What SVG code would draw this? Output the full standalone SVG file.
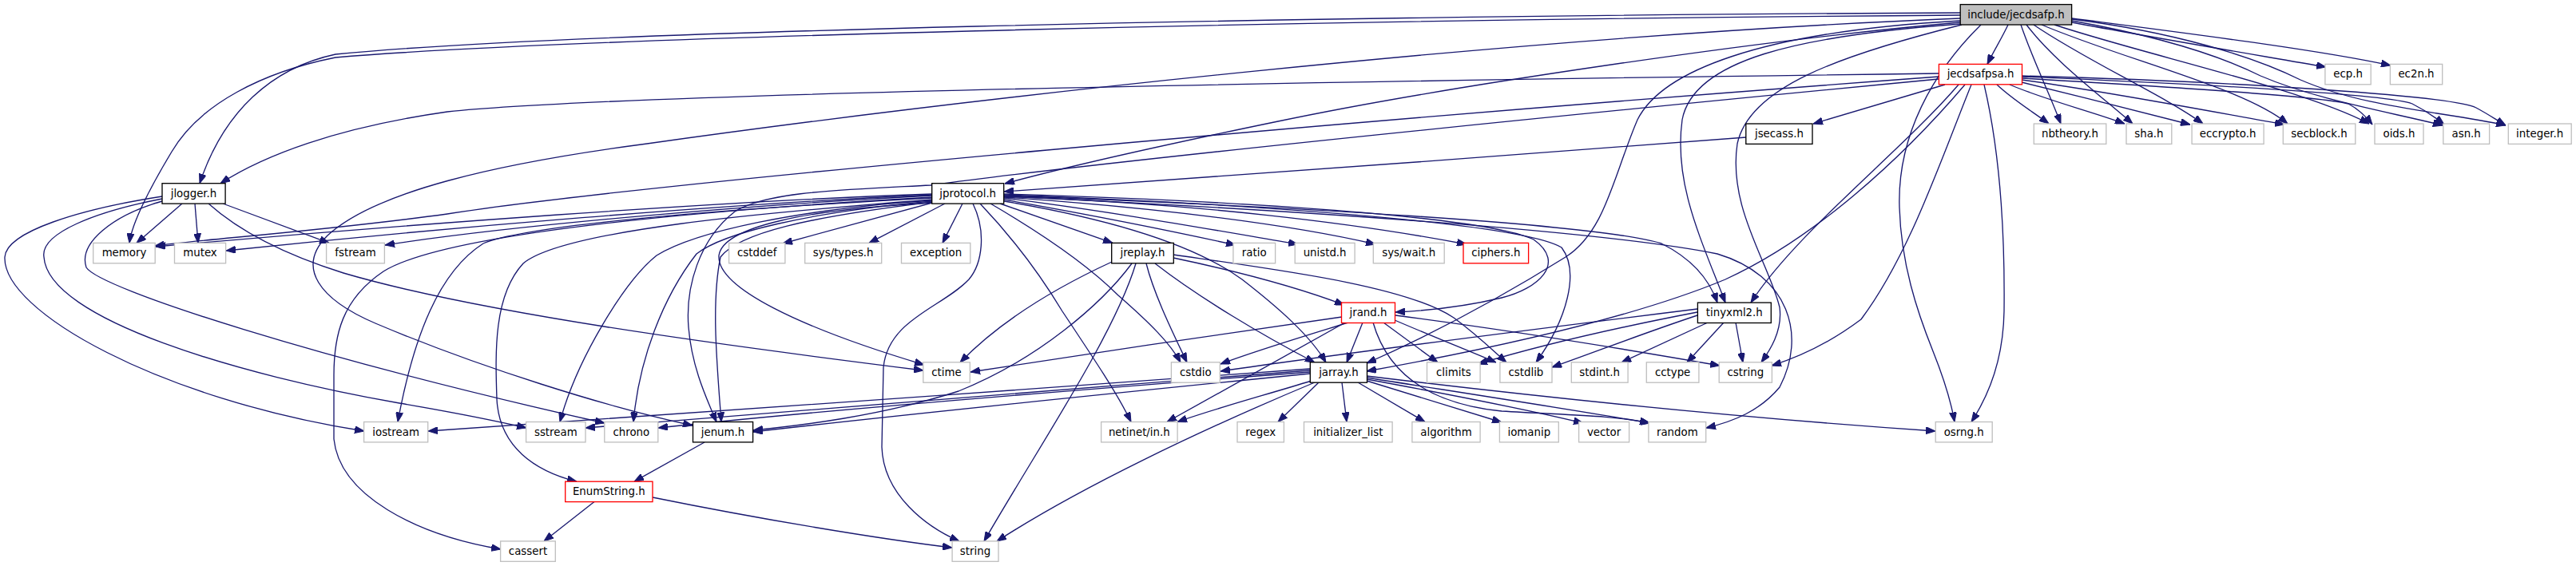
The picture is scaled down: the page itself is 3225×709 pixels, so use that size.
<svg xmlns="http://www.w3.org/2000/svg" width="3225" height="709" viewBox="0 0 3225 709">
<style>
rect{fill:#fff;stroke-width:1.33}
.ext{stroke:#bfbfbf}
.doc{stroke:#000}
.tr{stroke:#f00}
.root{fill:#bfbfbf;stroke:#000}
text{font-family:"DejaVu Sans","Liberation Sans",sans-serif;font-size:13.33px;text-anchor:middle;fill:#000}
#edges path{fill:none;stroke:#191970;stroke-width:1.33;marker-end:url(#arr)}
</style>
<defs>
<marker id="arr" markerUnits="userSpaceOnUse" markerWidth="12" markerHeight="9" refX="12" refY="4.5" orient="auto" viewBox="0 0 12 9">
<path d="M0,0 L12,4.5 L0,9 z" fill="#191970" stroke="#191970" stroke-width="1"/>
</marker>
</defs>
<rect x="0" y="0" width="3225" height="709" style="fill:#fff;stroke:none"/>
<g id="edges">
<path d="M2514,31 C2506,48 2496,64 2488,80.4"/>
<path d="M2594,28 C2700,48 2820,68 2912,84"/>
<path d="M2594,23 C2740,42 2900,62 2993,82"/>
<path d="M2530,31 C2545,75 2565,115 2580,155"/>
<path d="M2537,31 C2570,75 2630,120 2670,155"/>
<path d="M2546,31 C2610,75 2710,120 2758,155"/>
<path d="M2556,31 C2660,75 2810,110 2864,155"/>
<path d="M2572,31 C2690,70 2880,110 2966,155"/>
<path d="M2594,26 C2700,45 2780,70 2830,95 C2900,125 2990,140 3058,157"/>
<path d="M2594,24 C2720,40 2820,70 2880,100 C2960,135 3060,140 3137,157"/>
<path d="M2500,106 C2520,125 2545,140 2565,155"/>
<path d="M2516,106 C2560,125 2620,140 2660,155"/>
<path d="M2531,103 C2600,120 2680,140 2742,156"/>
<path d="M2531,100 C2640,115 2770,140 2860,156"/>
<path d="M2531,98 C2700,108 2900,120 2940,130 C2955,138 2963,147 2970,156"/>
<path d="M2531,96 C2750,105 2990,118 3020,130 C3040,140 3050,148 3060,156"/>
<path d="M2531,95 C2800,102 3070,120 3100,135 C3115,143 3125,150 3137,157"/>
<path d="M2435,106 L2270,155"/>
<path d="M2427,92 C1800,100 800,115 560,140 C420,160 330,195 276,229.7"/>
<path d="M2427,96 C1700,150 800,230 560,268 C400,290 250,300 194,308"/>
<path d="M2427,99 C2000,140 1400,200 1165,232 C1050,238 960,240 920,265 C875,300 858,360 862,410 C866,460 885,500 897,528.5"/>
<path d="M2452,106 C2380,190 2250,290 2192,379"/>
<path d="M2460,106 C2380,200 2270,300 2160,350 C2040,400 1850,440 1711,465"/>
<path d="M2468,106 C2430,200 2390,320 2330,400 C2290,430 2250,448 2218,458"/>
<path d="M2484,106 C2506,200 2510,300 2509,390 C2508,450 2490,495 2468,528.5"/>
<path d="M2454,16 C1600,20 700,40 420,68 C340,85 280,140 250,229.7"/>
<path d="M2454,19 C1600,25 700,48 420,72 C330,90 250,130 215,190 C185,240 165,280 162,304.4"/>
<path d="M2454,28 C2200,50 1800,110 1600,152 C1450,183 1320,213 1258,230"/>
<path d="M2454,23 C1900,45 1200,125 810,180 C620,205 470,240 410,295 C370,335 400,375 470,405 C600,460 760,510 867,533"/>
<path d="M2454,30 C2250,45 2120,75 2106,150 C2095,230 2130,300 2160,379"/>
<path d="M2456,31 C2300,70 2190,110 2175,180 C2163,260 2215,330 2228,385 C2232,415 2215,440 2205,453.8"/>
<path d="M2454,26 C2200,40 2080,90 2050,150 C2020,220 2010,290 1960,322 C1880,372 1790,420 1711,455"/>
<path d="M2480,31 C2420,90 2375,170 2378,260 C2380,330 2400,390 2420,440 C2432,470 2442,500 2447,528.5"/>
<path d="M2186,172 C1900,195 1500,222 1257,240"/>
<path d="M228,255 L171,304.4"/>
<path d="M244,255 L248,304.4"/>
<path d="M279,255 L412,304.4"/>
<path d="M261,255 C300,290 360,320 430,342 C600,392 900,432 1156,464"/>
<path d="M203,246 C100,262 8,290 6,322 C3,390 200,500 456,540"/>
<path d="M203,249 C120,265 50,292 55,322 C60,400 300,470 500,505 C570,517 620,527 659,536"/>
<path d="M203,252 C140,270 98,305 108,335 C125,362 400,450 757,530"/>
<path d="M1167,243 C900,252 500,282 195,309"/>
<path d="M1167,244 C900,256 560,285 283,314"/>
<path d="M1167,245 C950,256 650,281 482,307"/>
<path d="M1167,247 C900,262 560,290 480,340 C428,375 418,420 418,470 L418,550 C425,620 520,670 627,688"/>
<path d="M1167,248 C900,262 660,282 605,305 C550,340 518,420 498,528.5"/>
<path d="M1167,250 C960,266 705,288 655,330 C618,370 620,440 622,500 C625,560 670,590 722,603.2"/>
<path d="M1167,251 C1000,262 870,290 822,320 C782,352 722,450 701,528.5"/>
<path d="M1167,252 C1010,266 905,292 872,318 C830,372 800,450 793,528.5"/>
<path d="M1168,253 C1010,272 925,292 902,322 C890,380 898,460 903,528.5"/>
<path d="M1169,254 C1010,262 905,284 900,320 C897,360 1000,410 1157,457"/>
<path d="M1167,254 L980,305"/>
<path d="M1183,255 L1088,304.4"/>
<path d="M1205,255 L1180,304.4"/>
<path d="M1218,255 C1235,290 1230,330 1213,350 C1180,385 1112,400 1106,460 L1104,560 C1106,620 1160,660 1201,678"/>
<path d="M1227,255 C1265,295 1300,340 1330,390 C1370,450 1400,495 1416,528.5"/>
<path d="M1240,255 C1300,290 1360,330 1400,370 C1440,405 1465,430 1478,454"/>
<path d="M1252,255 L1393,304.4"/>
<path d="M1257,252 C1400,276 1500,310 1555,350 C1600,385 1640,420 1660,454"/>
<path d="M1257,250 C1370,270 1470,290 1547,307"/>
<path d="M1257,248 C1400,266 1530,290 1625,306"/>
<path d="M1257,247 C1450,260 1620,282 1722,306"/>
<path d="M1257,246 C1500,255 1700,280 1836,306"/>
<path d="M1257,243 C1500,250 1850,268 1920,300 C1962,330 1925,362 1880,373 C1830,385 1790,389 1747,391"/>
<path d="M1257,244 C1550,255 1900,278 1955,310 C1978,340 1962,400 1923,454"/>
<path d="M1257,245 C1600,258 2000,280 2080,305 C2120,325 2140,350 2150,379"/>
<path d="M1257,246 C1600,262 2000,288 2150,318 C2240,345 2262,420 2228,485 C2203,515 2170,528 2136,536"/>
<path d="M1392,328 C1340,352 1262,392 1202,454"/>
<path d="M1417,330 C1380,380 1300,450 1200,490 C1100,522 1000,533 943,539"/>
<path d="M1422,330 C1395,420 1300,560 1232,678"/>
<path d="M1435,330 C1445,370 1470,420 1486,454"/>
<path d="M1446,330 C1500,372 1580,420 1646,454"/>
<path d="M1469,323 C1550,340 1630,362 1683,382"/>
<path d="M1469,319 C1600,338 1760,358 1820,398 C1850,420 1870,440 1886,454"/>
<path d="M1680,397 C1550,415 1350,445 1215,466"/>
<path d="M1688,404 C1620,425 1570,440 1528,456"/>
<path d="M1684,404 C1620,440 1530,490 1461,528.5"/>
<path d="M1706,404 L1686,454"/>
<path d="M1732,404 L1800,454"/>
<path d="M1746,401 C1790,420 1840,440 1873,454"/>
<path d="M1747,395 C1900,415 2050,440 2153,458"/>
<path d="M1719,404 C1735,460 1780,505 1880,515 C1960,520 2020,520 2065,530"/>
<path d="M1640,462 C1300,487 800,522 536,540"/>
<path d="M1640,464 C1300,490 900,522 733,536"/>
<path d="M1640,466 C1300,492 1000,517 824,536"/>
<path d="M1640,468 C1400,492 1150,517 943,541"/>
<path d="M1642,477 C1580,496 1520,512 1474,528.5"/>
<path d="M1651,479 L1600,528.5"/>
<path d="M1646,479 C1500,540 1350,612 1248,678"/>
<path d="M1680,479 L1686,528.5"/>
<path d="M1700,479 L1784,528.5"/>
<path d="M1711,477 L1880,529"/>
<path d="M1711,475 C1820,495 1920,515 1982,530"/>
<path d="M1711,473 C1850,495 1980,515 2066,530"/>
<path d="M1711,471 C1950,500 2200,525 2423,540"/>
<path d="M2125,387 C1900,415 1700,440 1528,465"/>
<path d="M2125,391 C2000,415 1920,435 1850,456"/>
<path d="M2125,395 C2050,420 2000,440 1943,460"/>
<path d="M2138,404 L2030,454"/>
<path d="M2158,404 L2112,454"/>
<path d="M2173,404 L2182,454"/>
<path d="M882,554 L794,603.2"/>
<path d="M744,628.6 L681,677.9"/>
<path d="M817,623 C950,650 1100,675 1192,686"/>
</g>
<g id="n_root"><rect class="root" x="2454.2" y="5.6" width="139.4" height="25.4"/><text x="2523.9" y="22.6">include/jecdsafp.h</text></g>
<g id="n_jecdsafpsa"><rect class="tr" x="2427.4" y="80.4" width="104.1" height="25.4"/><text x="2479.5" y="97.4">jecdsafpsa.h</text></g>
<g id="n_ecp"><rect class="ext" x="2910.9" y="80.4" width="57.3" height="25.4"/><text x="2939.6" y="97.4">ecp.h</text></g>
<g id="n_ec2n"><rect class="ext" x="2992.4" y="80.4" width="65.3" height="25.4"/><text x="3025" y="97.4">ec2n.h</text></g>
<g id="n_jsecass"><rect class="doc" x="2185.8" y="155" width="83.2" height="25.4"/><text x="2227.4" y="172">jsecass.h</text></g>
<g id="n_nbtheory"><rect class="ext" x="2546.3" y="155" width="90.5" height="25.4"/><text x="2591.5" y="172">nbtheory.h</text></g>
<g id="n_sha"><rect class="ext" x="2662" y="155" width="56.8" height="25.4"/><text x="2690.4" y="172">sha.h</text></g>
<g id="n_eccrypto"><rect class="ext" x="2744.1" y="155" width="90" height="25.4"/><text x="2789.1" y="172">eccrypto.h</text></g>
<g id="n_secblock"><rect class="ext" x="2858.3" y="155" width="90.5" height="25.4"/><text x="2903.5" y="172">secblock.h</text></g>
<g id="n_oids"><rect class="ext" x="2973" y="155" width="61" height="25.4"/><text x="3003.5" y="172">oids.h</text></g>
<g id="n_asn"><rect class="ext" x="3058.8" y="155" width="57.8" height="25.4"/><text x="3087.7" y="172">asn.h</text></g>
<g id="n_integer"><rect class="ext" x="3140.3" y="155" width="78.9" height="25.4"/><text x="3179.7" y="172">integer.h</text></g>
<g id="n_jlogger"><rect class="doc" x="203" y="229.7" width="79.1" height="25.4"/><text x="242.5" y="246.7">jlogger.h</text></g>
<g id="n_jprotocol"><rect class="doc" x="1166.7" y="229.7" width="90" height="25.4"/><text x="1211.7" y="246.7">jprotocol.h</text></g>
<g id="n_memory"><rect class="ext" x="116.7" y="304.4" width="77.5" height="25.4"/><text x="155.5" y="321.4">memory</text></g>
<g id="n_mutex"><rect class="ext" x="218.5" y="304.4" width="64.1" height="25.4"/><text x="250.5" y="321.4">mutex</text></g>
<g id="n_fstream"><rect class="ext" x="408.6" y="304.4" width="72.8" height="25.4"/><text x="445" y="321.4">fstream</text></g>
<g id="n_cstddef"><rect class="ext" x="912.6" y="304.4" width="70.3" height="25.4"/><text x="947.7" y="321.4">cstddef</text></g>
<g id="n_systypes"><rect class="ext" x="1007.7" y="304.4" width="96" height="25.4"/><text x="1055.7" y="321.4">sys/types.h</text></g>
<g id="n_exception"><rect class="ext" x="1128.5" y="304.4" width="86.3" height="25.4"/><text x="1171.6" y="321.4">exception</text></g>
<g id="n_jreplay"><rect class="doc" x="1391.7" y="304.4" width="77.6" height="25.4"/><text x="1430.5" y="321.4">jreplay.h</text></g>
<g id="n_ratio"><rect class="ext" x="1543.9" y="304.4" width="52.7" height="25.4"/><text x="1570.2" y="321.4">ratio</text></g>
<g id="n_unistd"><rect class="ext" x="1621.2" y="304.4" width="74.9" height="25.4"/><text x="1658.6" y="321.4">unistd.h</text></g>
<g id="n_syswait"><rect class="ext" x="1719.3" y="304.4" width="88.9" height="25.4"/><text x="1763.7" y="321.4">sys/wait.h</text></g>
<g id="n_ciphers"><rect class="tr" x="1832" y="304.4" width="81.6" height="25.4"/><text x="1872.8" y="321.4">ciphers.h</text></g>
<g id="n_jrand"><rect class="tr" x="1679.5" y="379.1" width="67" height="25.4"/><text x="1713" y="396.1">jrand.h</text></g>
<g id="n_tinyxml2"><rect class="doc" x="2125.4" y="379.1" width="91.9" height="25.4"/><text x="2171.3" y="396.1">tinyxml2.h</text></g>
<g id="n_ctime"><rect class="ext" x="1155.8" y="453.8" width="58.5" height="25.4"/><text x="1185" y="470.8">ctime</text></g>
<g id="n_cstdio"><rect class="ext" x="1466.4" y="453.8" width="60.9" height="25.4"/><text x="1496.8" y="470.8">cstdio</text></g>
<g id="n_jarray"><rect class="doc" x="1640.3" y="453.8" width="71.2" height="25.4"/><text x="1675.9" y="470.8">jarray.h</text></g>
<g id="n_climits"><rect class="ext" x="1786.5" y="453.8" width="66.6" height="25.4"/><text x="1819.8" y="470.8">climits</text></g>
<g id="n_cstdlib"><rect class="ext" x="1877.9" y="453.8" width="65.1" height="25.4"/><text x="1910.4" y="470.8">cstdlib</text></g>
<g id="n_stdint"><rect class="ext" x="1967.3" y="453.8" width="70.8" height="25.4"/><text x="2002.7" y="470.8">stdint.h</text></g>
<g id="n_cctype"><rect class="ext" x="2061.3" y="453.8" width="65.6" height="25.4"/><text x="2094.1" y="470.8">cctype</text></g>
<g id="n_cstring"><rect class="ext" x="2152.2" y="453.8" width="66.2" height="25.4"/><text x="2185.3" y="470.8">cstring</text></g>
<g id="n_iostream"><rect class="ext" x="455.6" y="528.5" width="80.1" height="25.4"/><text x="495.6" y="545.5">iostream</text></g>
<g id="n_sstream"><rect class="ext" x="658.6" y="528.5" width="74.4" height="25.4"/><text x="695.8" y="545.5">sstream</text></g>
<g id="n_chrono"><rect class="ext" x="756.8" y="528.5" width="67" height="25.4"/><text x="790.3" y="545.5">chrono</text></g>
<g id="n_jenum"><rect class="doc" x="867.5" y="528.5" width="75.1" height="25.4"/><text x="905" y="545.5">jenum.h</text></g>
<g id="n_netinet"><rect class="ext" x="1378.6" y="528.5" width="95.5" height="25.4"/><text x="1426.3" y="545.5">netinet/in.h</text></g>
<g id="n_regex"><rect class="ext" x="1549" y="528.5" width="58.4" height="25.4"/><text x="1578.2" y="545.5">regex</text></g>
<g id="n_initlist"><rect class="ext" x="1632.5" y="528.5" width="110.6" height="25.4"/><text x="1687.8" y="545.5">initializer_list</text></g>
<g id="n_algorithm"><rect class="ext" x="1767.9" y="528.5" width="85.2" height="25.4"/><text x="1810.5" y="545.5">algorithm</text></g>
<g id="n_iomanip"><rect class="ext" x="1877.4" y="528.5" width="73.9" height="25.4"/><text x="1914.3" y="545.5">iomanip</text></g>
<g id="n_vector"><rect class="ext" x="1976.6" y="528.5" width="63" height="25.4"/><text x="2008.1" y="545.5">vector</text></g>
<g id="n_random"><rect class="ext" x="2063.9" y="528.5" width="71.8" height="25.4"/><text x="2099.8" y="545.5">random</text></g>
<g id="n_osrng"><rect class="ext" x="2423.2" y="528.5" width="71" height="25.4"/><text x="2458.7" y="545.5">osrng.h</text></g>
<g id="n_enumstring"><rect class="tr" x="707.7" y="603.2" width="109.3" height="25.4"/><text x="762.3" y="620.2">EnumString.h</text></g>
<g id="n_cassert"><rect class="ext" x="626.6" y="677.9" width="68.7" height="25.4"/><text x="661" y="694.9">cassert</text></g>
<g id="n_string"><rect class="ext" x="1192.1" y="677.9" width="57.9" height="25.4"/><text x="1221" y="694.9">string</text></g>
</svg>
